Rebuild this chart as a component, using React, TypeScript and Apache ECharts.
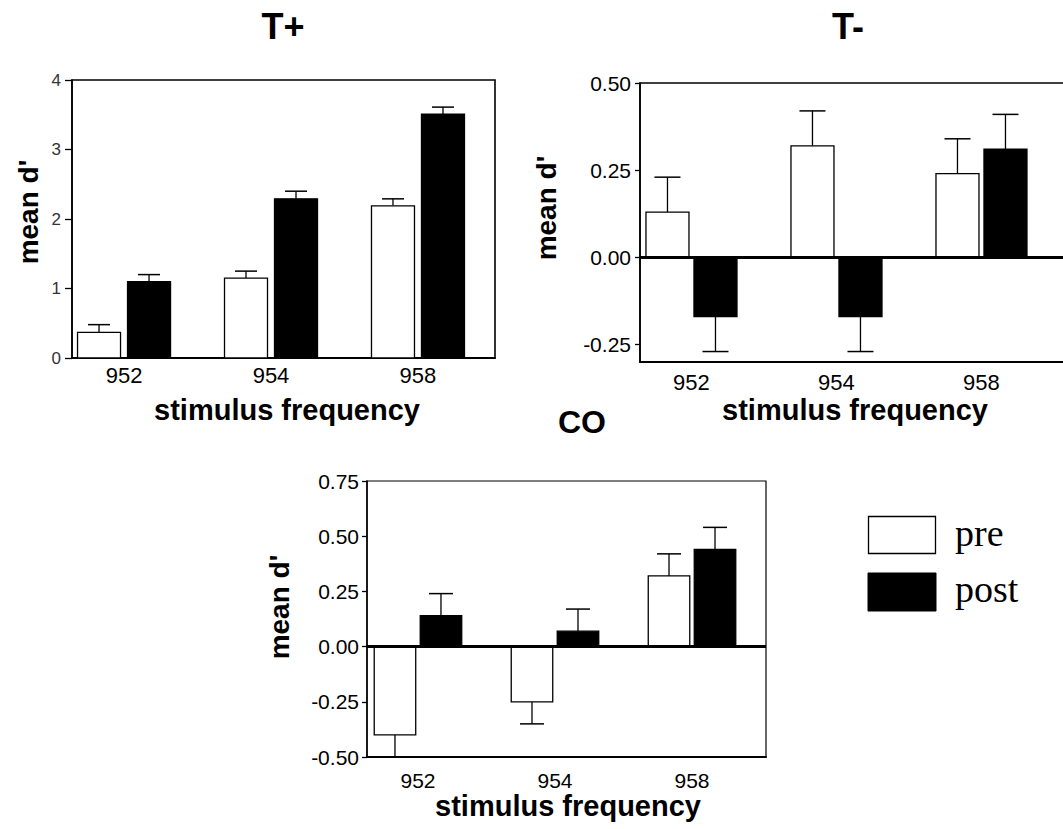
import React, { useEffect, useRef } from "react";
import * as echarts from "echarts";

const categories = ["952", "954", "958"];

const tPlusPre = [0.37, 1.15, 2.19];
const tPlusPreErr = [0.11, 0.1, 0.1];
const tPlusPost = [1.1, 2.29, 3.51];
const tPlusPostErr = [0.1, 0.11, 0.1];

const tMinusPre = [0.13, 0.32, 0.24];
const tMinusPreErr = [0.1, 0.1, 0.1];
const tMinusPost = [-0.17, -0.17, 0.31];
const tMinusPostErr = [0.1, 0.1, 0.1];

const coPre = [-0.4, -0.25, 0.32];
const coPreErr = [0.1, 0.1, 0.1];
const coPost = [0.14, 0.07, 0.44];
const coPostErr = [0.1, 0.1, 0.1];

const tPlusTicks = [0, 1, 2, 3, 4];
const tMinusTicks = [-0.25, 0, 0.25, 0.5];
const coTicks = [-0.5, -0.25, 0, 0.25, 0.5, 0.75];

const panelTitles = ["T+", "T-", "CO"];
const yName = "mean d'";
const xName = "stimulus frequency";
const legendNames = ["pre", "post"];

const FONT = '"Liberation Sans", Arial, Helvetica, sans-serif';

function toData(vals: number[], errs: number[]) {
  return vals.map((v, i) => [i, v, errs[i]]);
}

function makeRender(offset: number, barW: number, capW: number, fill: string) {
  return function (params: any, api: any) {
    const x = api.value(0);
    const v = api.value(1);
    const e = api.value(2);
    const base = api.coord([x, 0]);
    const top = api.coord([x, v]);
    const sgn = v >= 0 ? 1 : -1;
    const eEnd = api.coord([x, v + sgn * e]);
    const cx = base[0] + offset;
    const y0 = Math.min(base[1], top[1]);
    const h = Math.abs(base[1] - top[1]);
    return {
      type: "group",
      children: [
        {
          type: "line",
          shape: { x1: cx, y1: top[1], x2: cx, y2: eEnd[1] },
          style: { stroke: "#000", lineWidth: 1.3 },
        },
        {
          type: "line",
          shape: { x1: cx - capW / 2, y1: eEnd[1], x2: cx + capW / 2, y2: eEnd[1] },
          style: { stroke: "#000", lineWidth: 1.5 },
        },
        {
          type: "rect",
          shape: { x: cx - barW / 2, y: y0, width: barW, height: h },
          style: { fill, stroke: "#000", lineWidth: 1.3 },
        },
      ],
    };
  };
}

type Panel = {
  grid: any;
  xMin: number;
  xMax: number;
  yMin: number;
  yMax: number;
  ticks: number[];
  digits: number;
  tickFont: number;
  tickColor: string;
  tickMargin: number;
  tickLen: number;
  xFont: number;
  xMargin: number;
  barW: number;
  offset: number;
  cap: number;
  pre: number[][];
  post: number[][];
  zeroLine: boolean;
  border: number;
};

const panels: Panel[] = [
  {
    grid: { left: 72, top: 80, width: 423, height: 278 },
    xMin: -0.354,
    xMax: 2.524,
    yMin: 0,
    yMax: 4,
    ticks: tPlusTicks,
    digits: 0,
    tickFont: 17,
    tickColor: "#333",
    tickMargin: 11,
    tickLen: 7,
    xFont: 22,
    xMargin: 6,
    barW: 43,
    offset: 25,
    cap: 22,
    pre: toData(tPlusPre, tPlusPreErr),
    post: toData(tPlusPost, tPlusPostErr),
    zeroLine: false,
    border: 1.6,
  },
  {
    grid: { left: 640, top: 83, width: 440, height: 279 },
    xMin: -0.355,
    xMax: -0.355 + 440 / 145,
    yMin: -0.3,
    yMax: 0.5,
    ticks: tMinusTicks,
    digits: 2,
    tickFont: 21,
    tickColor: "#000",
    tickMargin: 9,
    tickLen: 5,
    xFont: 22,
    xMargin: 9,
    barW: 43,
    offset: 24,
    cap: 26,
    pre: toData(tMinusPre, tMinusPreErr),
    post: toData(tMinusPost, tMinusPostErr),
    zeroLine: true,
    border: 1.6,
  },
  {
    grid: { left: 367, top: 481, width: 399, height: 276 },
    xMin: -0.372,
    xMax: 2.54,
    yMin: -0.5,
    yMax: 0.75,
    ticks: coTicks,
    digits: 2,
    tickFont: 21,
    tickColor: "#000",
    tickMargin: 8,
    tickLen: 5,
    xFont: 21,
    xMargin: 13,
    barW: 41.5,
    offset: 23,
    cap: 24,
    pre: toData(coPre, coPreErr),
    post: toData(coPost, coPostErr),
    zeroLine: true,
    border: 1.2,
  },
];

function buildOption() {
  const grid: any[] = [];
  const xAxis: any[] = [];
  const yAxis: any[] = [];
  const series: any[] = [];
  panels.forEach((p, i) => {
    grid.push({
      ...p.grid,
      show: true,
      borderColor: "#000",
      borderWidth: p.border,
      backgroundColor: "transparent",
      containLabel: false,
      outerBoundsMode: "none",
    });
    xAxis.push({
      type: "value",
      gridIndex: i,
      min: p.xMin,
      max: p.xMax,
      splitLine: { show: false },
      axisLine: { show: true, onZero: false, lineStyle: { color: "#000", width: 2 } },
      axisTick: { show: false },
      axisLabel: {
        customValues: [0, 1, 2],
        formatter: (v: number) => categories[Math.round(v)] ?? "",
        fontFamily: FONT,
        fontSize: p.xFont,
        color: "#000",
        margin: p.xMargin,
        showMinLabel: true,
        showMaxLabel: true,
      },
    });
    yAxis.push({
      type: "value",
      gridIndex: i,
      min: p.yMin,
      max: p.yMax,
      splitLine: { show: false },
      axisLine: { show: true, onZero: false, lineStyle: { color: "#000", width: 1.5 } },
      axisTick: {
        show: true,
        customValues: p.ticks,
        length: p.tickLen,
        lineStyle: { color: "#000", width: 1.3 },
      },
      axisLabel: {
        customValues: p.ticks,
        formatter: (v: number) => Number(v).toFixed(p.digits),
        fontFamily: FONT,
        fontSize: p.tickFont,
        color: p.tickColor,
        margin: p.tickMargin,
        showMinLabel: true,
        showMaxLabel: true,
      },
    });
    series.push({
      type: "custom",
      name: legendNames[0],
      xAxisIndex: i,
      yAxisIndex: i,
      clip: true,
      renderItem: makeRender(-p.offset, p.barW, p.cap, "#fff"),
      data: p.pre,
      silent: true,
    });
    const post: any = {
      type: "custom",
      name: legendNames[1],
      xAxisIndex: i,
      yAxisIndex: i,
      clip: true,
      renderItem: makeRender(p.offset, p.barW, p.cap, "#000"),
      data: p.post,
      silent: true,
    };
    if (p.zeroLine) {
      post.markLine = {
        silent: true,
        symbol: ["none", "none"],
        label: { show: false },
        lineStyle: { color: "#000", width: 3, type: "solid" },
        data: [{ yAxis: 0 }],
      };
    }
    series.push(post);
  });

  const boldText = (text: string, x: number, y: number, size: number, rot = 0) => ({
    type: "text",
    x,
    y,
    rotation: rot,
    silent: true,
    style: {
      text,
      fontFamily: FONT,
      fontWeight: "bold",
      fontSize: size,
      fill: "#000",
      textAlign: "center",
      textVerticalAlign: "middle",
    },
  });

  const graphic: any[] = [
    boldText(panelTitles[0], 283, 26, 36),
    boldText(panelTitles[1], 848, 26, 36),
    boldText(panelTitles[2], 582, 422, 32),
    boldText(yName, 28, 212, 28, Math.PI / 2),
    boldText(yName, 546, 208, 28, Math.PI / 2),
    boldText(yName, 279, 607, 28, Math.PI / 2),
    boldText(xName, 287, 410, 29),
    boldText(xName, 855, 410, 29),
    boldText(xName, 568, 806, 29),
    {
      type: "rect",
      shape: { x: 868.5, y: 516.5, width: 67, height: 37 },
      style: { fill: "#fff", stroke: "#000", lineWidth: 1.3 },
      silent: true,
    },
    {
      type: "rect",
      shape: { x: 868, y: 573, width: 68, height: 38 },
      style: { fill: "#000", stroke: "#000", lineWidth: 1 },
      silent: true,
    },
    {
      type: "text",
      x: 955,
      y: 533,
      silent: true,
      style: {
        text: legendNames[0],
        fontFamily: '"Liberation Serif", "Times New Roman", serif',
        fontSize: 38,
        fill: "#000",
        textAlign: "left",
        textVerticalAlign: "middle",
      },
    },
    {
      type: "text",
      x: 955,
      y: 589,
      silent: true,
      style: {
        text: legendNames[1],
        fontFamily: '"Liberation Serif", "Times New Roman", serif',
        fontSize: 38,
        fill: "#000",
        textAlign: "left",
        textVerticalAlign: "middle",
      },
    },
  ];

  return {
    animation: false,
    backgroundColor: "#fff",
    grid,
    xAxis,
    yAxis,
    series,
    graphic,
  };
}

export default function App() {
  const ref = useRef<HTMLDivElement>(null);
  useEffect(() => {
    if (!ref.current) return;
    const chart = echarts.init(ref.current, undefined, { renderer: "svg" });
    chart.setOption(buildOption() as any);
    return () => {
      chart.dispose();
    };
  }, []);
  return (
    <div
      ref={ref}
      style={{ position: "absolute", left: 0, top: 0, width: 1063, height: 829, background: "#fff" }}
    />
  );
}
